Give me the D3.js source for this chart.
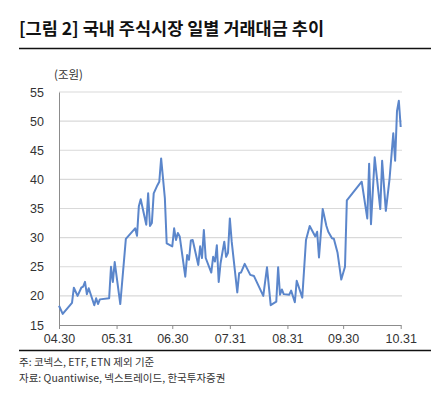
<!DOCTYPE html>
<html>
<head>
<meta charset="utf-8">
<script src="https://cdn.jsdelivr.net/npm/d3@7"></script>
<style>
  body { margin: 0; background: #fff; }
  text { font-family: "Liberation Sans", Arial, sans-serif; }
  .kr { font-family: "Noto Sans CJK KR", sans-serif; }
</style>
</head>
<body>
<div id="chart-area"></div>
<script>
// 일별 거래대금 (조원)
var dates = ["04.30","05.02","05.07","05.08","05.10","05.12","05.13","05.14","05.15","05.16",
  "05.19","05.20","05.21","05.22","05.27","05.28","05.29","05.30","06.02","06.05",
  "06.10","06.11","06.12","06.13","06.16","06.17","06.18","06.19","06.20","06.22",
  "06.23","06.24","06.26","06.27","06.30","07.01","07.02","07.03","07.04","07.07",
  "07.08","07.09","07.10","07.11","07.14","07.15","07.16","07.17","07.18","07.21",
  "07.22","07.23","07.24","07.25","07.26","07.28","07.29","07.30","07.31","08.01",
  "08.04","08.05","08.06","08.08","08.11","08.13","08.18","08.20","08.22","08.25",
  "08.26","08.27","08.28","08.29","09.01","09.02","09.04","09.05","09.08","09.10",
  "09.12","09.15","09.16","09.17","09.19","09.21","09.22","09.24","09.25","09.27",
  "09.29","10.01","10.02","10.10","10.13","10.14","10.15","10.17","10.20","10.21",
  "10.23","10.25","10.27","10.28","10.29","10.30","10.31"];
var values = [18.3,16.9,18.8,21.4,20.0,21.4,21.6,22.4,20.3,21.3,
  18.4,19.6,18.6,19.4,19.6,25.0,22.4,25.8,18.6,29.8,
  31.6,30.3,35.4,36.6,32.2,37.6,32.0,32.5,37.6,39.0,
  39.6,43.6,36.8,29.0,28.5,31.6,29.6,30.8,30.2,23.3,
  27.0,26.2,29.5,29.6,25.3,28.5,26.5,31.3,26.5,24.0,
  26.7,25.9,28.7,22.4,25.6,29.3,26.7,27.4,33.3,29.3,
  20.6,23.9,24.0,25.5,23.6,23.4,20.0,24.9,18.4,19.0,
  24.9,20.2,21.1,20.3,20.2,20.9,18.9,22.6,19.7,29.6,
  32.0,30.2,31.0,26.6,34.9,32.0,31.0,29.9,29.8,27.4,
  22.8,25.0,36.4,39.6,33.3,42.7,32.3,43.8,34.9,43.2,
  34.6,40.1,47.9,43.2,51.7,53.5,49.0];
var xTicks = ["04.30","05.31","06.30","07.31","08.31","09.30","10.31"];
var yTicks = [15,20,25,30,35,40,45,50,55];

var parse = d3.timeParse("%Y.%m.%d");
var data = dates.map((d, i) => ({date: parse("2025." + d), value: values[i]}));

var W = 447, H = 398;
var margin = {top: 92, right: 45, bottom: 73, left: 59};
var width = 402 - margin.left;
var height = 325 - margin.top;

var svg = d3.select("#chart-area")
  .append("svg")
  .attr("width", W)
  .attr("height", H);

// Title
svg.append("text")
  .attr("class", "kr")
  .attr("x", 19)
  .attr("y", 35)
  .attr("font-size", "17.5px")
  .attr("font-weight", "bold")
  .attr("fill", "#111")
  .text("[그림 2] 국내 주식시장 일별 거래대금 추이");
svg.append("line")
  .attr("x1", 19).attr("x2", 431)
  .attr("y1", 48.5).attr("y2", 48.5)
  .attr("stroke", "#111").attr("stroke-width", 1.5);

var g = svg.append("g")
  .attr("transform", "translate(" + margin.left + ", " + margin.top + ")");

var x = d3.scaleTime()
  .domain([parse("2025.04.30"), parse("2025.10.31")])
  .range([0, width - 1.3]);
var y = d3.scaleLinear()
  .domain([15, 55])
  .range([height, 0]);

// Grid
g.selectAll(".grid")
  .data(yTicks.slice(1))
  .enter().append("line")
  .attr("x1", 0).attr("x2", width)
  .attr("y1", d => y(d)).attr("y2", d => y(d))
  .attr("stroke", "#d9d9d9").attr("stroke-width", 1.2);

// Y axis
var leftAxis = d3.axisLeft(y).tickValues(yTicks).tickSize(0).tickPadding(15);
var ya = g.append("g").call(leftAxis);
ya.select(".domain").attr("stroke", "#8c8c8c");
ya.selectAll("text").attr("font-size", "12.5px").attr("fill", "#333")
  .attr("font-family", "Liberation Sans, Arial, sans-serif");

g.append("text")
  .attr("class", "kr")
  .attr("x", -5)
  .attr("y", -13)
  .attr("font-size", "11.5px")
  .attr("fill", "#333")
  .text("(조원)");

// X axis
var bottomAxis = d3.axisBottom(x)
  .tickValues(xTicks.map(t => parse("2025." + t)))
  .tickFormat(d3.timeFormat("%m.%d"))
  .tickSize(4).tickSizeOuter(0).tickPadding(5);
var xa = g.append("g")
  .attr("transform", "translate(0, " + height + ")")
  .call(bottomAxis);
xa.select(".domain").attr("stroke", "#8c8c8c");
xa.selectAll("line").attr("stroke", "#8c8c8c");
xa.selectAll("text").attr("font-size", "12.5px").attr("fill", "#333")
  .attr("font-family", "Liberation Sans, Arial, sans-serif");

// Line
var line = d3.line()
  .x(d => x(d.date))
  .y(d => y(d.value));
g.append("path")
  .datum(data)
  .attr("d", line)
  .attr("fill", "none")
  .attr("stroke", "#5b86cb")
  .attr("stroke-width", 2)
  .attr("stroke-linejoin", "round");

// Footer
svg.append("line")
  .attr("x1", 19).attr("x2", 431)
  .attr("y1", 350.5).attr("y2", 350.5)
  .attr("stroke", "#111").attr("stroke-width", 1.5);
svg.append("text")
  .attr("class", "kr")
  .attr("x", 19).attr("y", 366)
  .attr("font-size", "10.5px").attr("fill", "#333")
  .text("주: 코넥스, ETF, ETN 제외 기준");
svg.append("text")
  .attr("class", "kr")
  .attr("x", 19).attr("y", 382)
  .attr("font-size", "10.5px").attr("fill", "#333")
  .text("자료: Quantiwise, 넥스트레이드, 한국투자증권");
</script>
</body>
</html>
